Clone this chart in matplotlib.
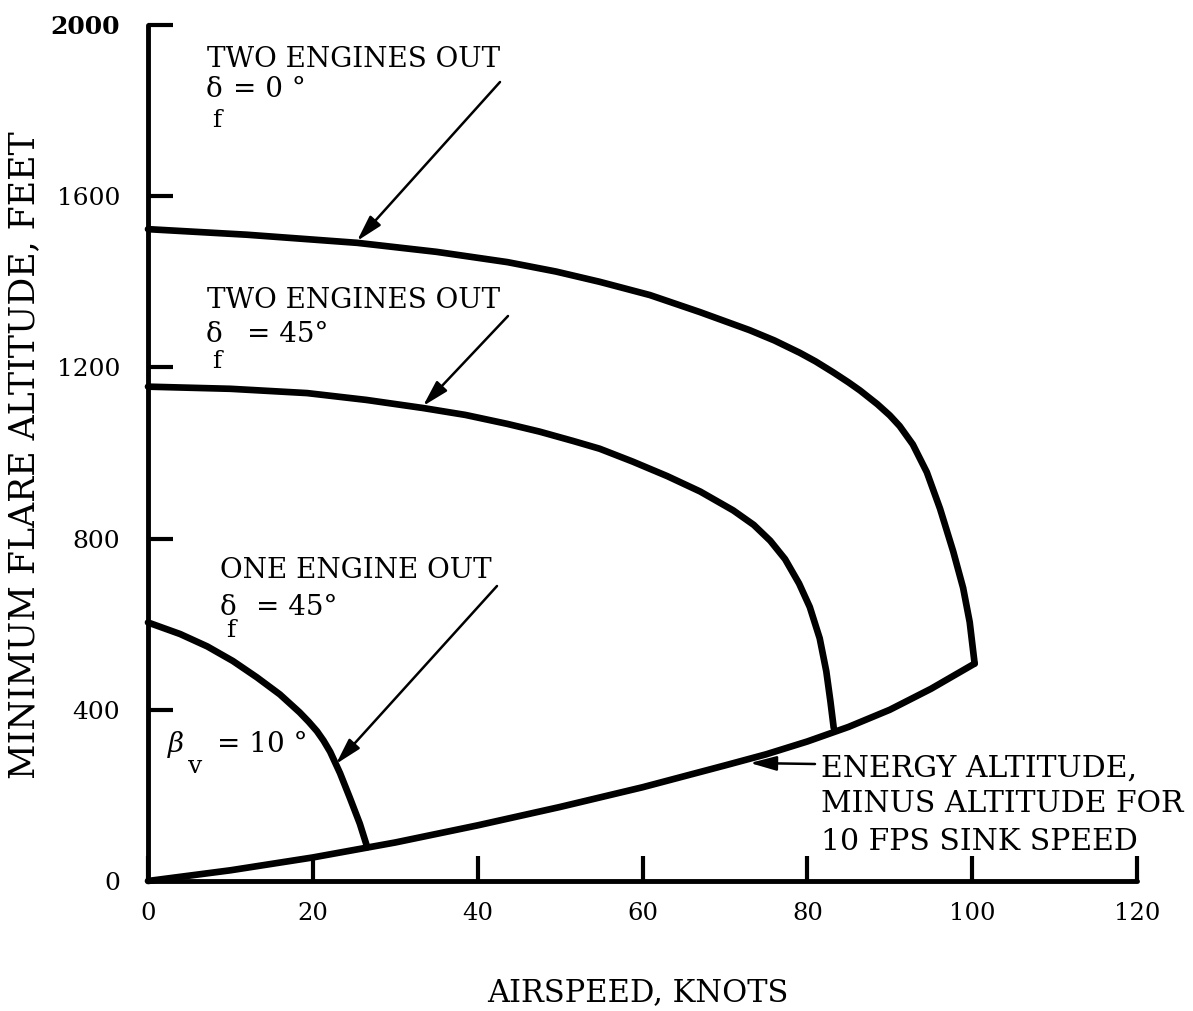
import matplotlib
matplotlib.use("Agg")
import matplotlib.pyplot as plt

# ---- data ----
energy_x = [0, 10, 20, 30, 40, 50, 60, 70, 75, 80, 85, 90, 95, 100.3]
energy_y = [0, 25, 55, 90, 130, 173, 219, 270, 296, 326, 360, 400, 449, 508]

two_out_0_x = [0, 12.0, 25.4, 35.0, 43.6, 49.5, 54.8, 60.9, 67.0, 73.0, 76.0, 79.1, 81.0,
               83.1, 85.0, 86.4, 88.5, 90.0, 91.2, 92.8, 94.5, 96.1, 97.7, 98.9, 99.7, 100.3]
two_out_0_y = [1523, 1510, 1491, 1470, 1446, 1424, 1400, 1369, 1329, 1287, 1263, 1234, 1214,
               1189, 1165, 1146, 1114, 1088, 1063, 1020, 955, 870, 770, 685, 605, 508]

two_out_45_x = [0, 10.0, 19.3, 26.5, 33.4, 38.5, 43.6, 47.5, 51.6, 54.8, 58.8, 63.0, 67.0,
                71.0, 73.5, 75.5, 77.3, 79.0, 80.3, 81.5, 82.3, 82.8, 83.2]
two_out_45_y = [1155, 1150, 1140, 1124, 1105, 1089, 1068, 1050, 1028, 1010, 980, 946, 910,
                866, 832, 795, 752, 695, 640, 567, 490, 420, 358]

one_out_x = [0, 3.9, 7.2, 10.3, 13.2, 16.0, 18.4, 19.5, 20.5, 21.3, 22.1, 23.3, 24.5, 25.7, 26.6]
one_out_y = [604, 577, 548, 514, 476, 436, 394, 372, 350, 328, 302, 252, 194, 134, 79]

x_ticks = [0, 20, 40, 60, 80, 100, 120]
y_ticks = [0, 400, 800, 1200, 1600, 2000]

W, H = 1193, 1011
fig = plt.figure(figsize=(W / 100, H / 100), dpi=100)
ax = fig.add_axes([148 / W, 130 / H, (1137 - 148) / W, (986 - 130) / H])
ax.set_xlim(0, 120)
ax.set_ylim(0, 2000)

for s in ("top", "right"):
    ax.spines[s].set_visible(False)
for s in ("left", "bottom"):
    ax.spines[s].set_linewidth(3.5)
    ax.spines[s].set_capstyle("round")

serif = "DejaVu Serif"
ax.set_xticks(x_ticks)
ax.set_yticks(y_ticks)
ax.set_xticklabels([str(v) for v in x_ticks], family=serif, fontsize=17.5)
ax.set_yticklabels([str(v) for v in y_ticks], family=serif, fontsize=18)
ax.get_yticklabels()[-1].set_fontweight("bold")
ax.tick_params(axis="both", direction="in", length=18, width=3)
ax.tick_params(axis="y", pad=20)
ax.tick_params(axis="x", pad=15)

lw = 4.8
kw = dict(color="black", lw=lw, solid_capstyle="round", solid_joinstyle="round", clip_on=False)
ax.plot(energy_x, energy_y, **kw)
ax.plot(two_out_0_x, two_out_0_y, **kw)
ax.plot(two_out_45_x, two_out_45_y, **kw)
ax.plot(one_out_x, one_out_y, **kw)

ax.set_ylabel("MINIMUM FLARE ALTITUDE, FEET", family=serif, fontsize=25)
ax.yaxis.label.set_verticalalignment("center")
ax.yaxis.set_label_coords(-(148 - 24) / (1137 - 148), (881 - 455) / (881 - 25))
ax.set_xlabel("AIRSPEED, KNOTS", family=serif, fontsize=22)
ax.xaxis.label.set_verticalalignment("center")
ax.xaxis.set_label_coords((638 - 148) / (1137 - 148), -(993 - 881) / (881 - 25))

def ftxt(px, py, s, size=18, family=serif, **kw2):
    fig.text(px / W, 1 - py / H, s, va="baseline", ha="left", fontsize=size, family=family, **kw2)

def px2d(px, py):
    return ((px - 148) / 8.2417, (881 - py) / 0.428)

ts = 20
ss = 18
# label 1
ftxt(207, 67, "TWO ENGINES OUT", ts)
ftxt(206, 97, "δ", ts)
ftxt(212, 127, "f", ss)
ftxt(233, 97, "= 0 °", ts)
# label 2
ftxt(207, 308, "TWO ENGINES OUT", ts)
ftxt(206, 342, "δ", ts)
ftxt(212, 368, "f", ss)
ftxt(247, 342, "= 45°", ts)
# label 3
ftxt(220, 578, "ONE ENGINE OUT", ts)
ftxt(220, 615, "δ", ts)
ftxt(226, 637, "f", ss)
ftxt(256, 615, "= 45°", ts)
# beta
ftxt(168, 752, "β", ts, style="italic")
ftxt(188, 773, "v", ss)
ftxt(217, 752, "= 10 °", ts)
# energy
es = 21.5
ftxt(821, 777, "ENERGY ALTITUDE,", es)
ftxt(821, 812, "MINUS ALTITUDE FOR", es)
ftxt(821, 850, "10 FPS SINK SPEED", es)

ap = dict(arrowstyle="-|>,head_length=0.8,head_width=0.22", lw=1.8, color="black",
          shrinkA=0, shrinkB=0, mutation_scale=20)
arrows = [((500, 82), (357, 241)), ((508, 316), (423, 406)), ((497, 586), (336, 764)),
          ((815, 764), (750, 763))]
for tail, tip in arrows:
    ax.annotate("", xy=px2d(*tip), xytext=px2d(*tail), arrowprops=ap, annotation_clip=False)

fig.savefig("out.png", dpi=100)
